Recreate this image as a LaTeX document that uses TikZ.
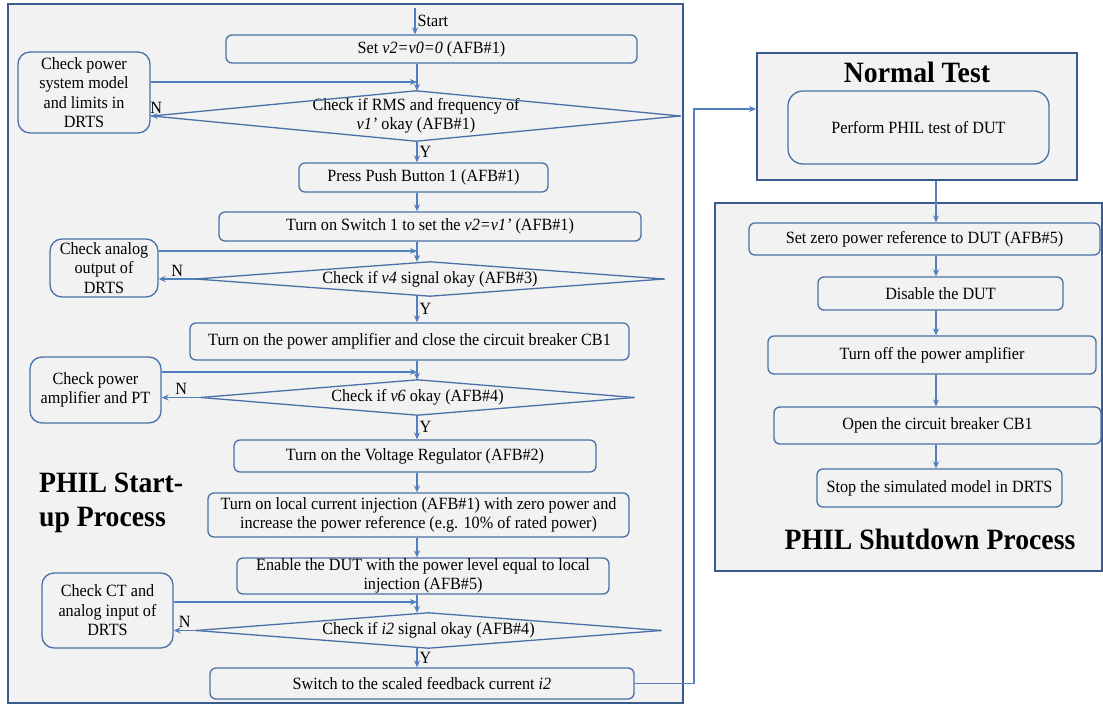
\documentclass[tikz,border=0pt]{standalone}
\usepackage{fontspec}
\setmainfont{Liberation Serif}[FakeStretch=0.94]
\usetikzlibrary{arrows.meta, calc}

\definecolor{panel_fill}{RGB}{242,242,242}
\definecolor{panel_line}{RGB}{58,92,140}
\definecolor{box_line}{RGB}{74,112,168}
\definecolor{arrow_line}{RGB}{80,128,190}

\tikzset{
  block_font/.style = {font=\fontsize{17.2}{19.5}\selectfont},
  title_font/.style = {font=\fontsize{29.5}{34}\selectfont\bfseries},
  panel/.style = {draw=panel_line, line width=1.8pt, fill=panel_fill, inner sep=0}
}
\tikzset{
  block/.style = {block_font, align=center, draw=box_line, line width=1.3pt, rounded corners=6, inner sep=0},
  check/.style = {block, rounded corners=12},
  diamond_edge/.style = {draw=box_line, line width=1.3pt, line cap=round},
  decision/.style = {block_font, align=center, inner sep=0,
    append after command={
      (\tikzlastnode.west) edge[diamond_edge] (\tikzlastnode.north)
      (\tikzlastnode.north) edge[diamond_edge] (\tikzlastnode.east)
      (\tikzlastnode.east) edge[diamond_edge] (\tikzlastnode.south)
      (\tikzlastnode.south) edge[diamond_edge] (\tikzlastnode.west)}},
  arrow/.style = {draw=arrow_line, line width=1.2pt, -{Stealth[length=7pt, width=6pt]}},
  answer/.style = {block_font, inner sep=2pt}
}

\begin{document}
\begin{tikzpicture}[x=1pt, y=-1pt]
    \useasboundingbox (0,0) rectangle (1103,707);

    % Panels
    \node[panel, minimum width=675, minimum height=699] at (345.5,353.5) (startup) {};
    \node[panel, minimum width=320, minimum height=127] at (917,116.5) (normal) {};
    \node[panel, minimum width=387, minimum height=368] at (908.5,387) (shutdown) {};

    \node[title_font, align=left, anchor=north west, inner sep=0] at (39,473) (startup_title) {
        PHIL Start-\\up Process};
    \node[title_font, anchor=base, inner sep=0] at (917,82) (normal_title) {Normal Test};
    \node[title_font, anchor=base, inner sep=0] at (930,549) (shutdown_title) {PHIL Shutdown Process};

    % Start-up steps
    \coordinate (spine) at (417,0);
    \coordinate (start) at (415,8);
    \node[block, minimum width=411, minimum height=28] at (431.5,49) (set_v) {
        Set \textit{v2=v0=0} (AFB\#1)};
    \node[check, minimum width=132, minimum height=81] at (84,92.5) (chk_model) {
        Check power\\system model\\and limits in\\DRTS};
    \node[decision, minimum width=528, minimum height=50] at (416,116) (dia_rms) {
        Check if RMS and frequency of\\\textit{v1'} okay (AFB\#1)};
    \node[block, minimum width=249, minimum height=29] at (423.5,177.5) (press) {
        Press Push Button 1 (AFB\#1)};
    \node[block, minimum width=422, minimum height=29] at (430,226.5) (switch_v) {
        Turn on Switch 1 to set the \textit{v2=v1'} (AFB\#1)};
    \node[check, minimum width=108, minimum height=58] at (104,268) (chk_analog) {
        Check analog\\output of\\DRTS};
    \node[decision, minimum width=468, minimum height=34] at (430,279) (dia_v4) {
        Check if \textit{v4} signal okay (AFB\#3)};
    \node[block, minimum width=439, minimum height=37] at (409.5,341.5) (amp_on) {
        Turn on the power amplifier and close the circuit breaker CB1};
    \node[check, minimum width=131, minimum height=66] at (95.5,390) (chk_amp) {
        Check power\\amplifier and PT};
    \node[decision, minimum width=433, minimum height=35] at (417.5,397.5) (dia_v6) {
        Check if \textit{v6} okay (AFB\#4)};
    \node[block, minimum width=362, minimum height=32] at (415,456) (volt_reg) {
        Turn on the Voltage Regulator (AFB\#2)};
    \node[block, minimum width=421, minimum height=44] at (418.5,515) (inject) {
        Turn on local current injection (AFB\#1) with zero power and\\
        increase the power reference (e.g. 10\% of rated power)};
    \node[block, minimum width=372, minimum height=36] at (423,576) (enable) {
        Enable the DUT with the power level equal to local\\injection (AFB\#5)};
    \node[check, minimum width=131, minimum height=75] at (107.5,610.5) (chk_ct) {
        Check CT and\\analog input of\\DRTS};
    \node[decision, minimum width=465, minimum height=35] at (428.5,630.5) (dia_i2) {
        Check if \textit{i2} signal okay (AFB\#4)};
    \node[block, minimum width=424, minimum height=31] at (422,683.5) (switch_i) {
        Switch to the scaled feedback current \textit{i2}};

    % Normal test and shutdown steps
    \coordinate (spine_r) at (936,0);
    \node[block, rounded corners=15, minimum width=261, minimum height=73] at (918.5,127.5) (perform) {
        Perform PHIL test of DUT};
    \node[block, minimum width=351, minimum height=32] at (924.5,239) (zero_ref) {
        Set zero power reference to DUT (AFB\#5)};
    \node[block, minimum width=245, minimum height=33] at (940.5,293.5) (disable) {
        Disable the DUT};
    \node[block, minimum width=328, minimum height=38] at (932,355) (amp_off) {
        Turn off the power amplifier};
    \node[block, minimum width=327, minimum height=37] at (937.5,425.5) (open_cb) {
        Open the circuit breaker CB1};
    \node[block, minimum width=245, minimum height=38] at (939.5,488) (stop_sim) {
        Stop the simulated model in DRTS};

    % Arrows
    \draw[arrow] (start) -- node[answer, right] {Start} (set_v.north -| start);

    \coordinate (join_rms) at (417,82);
    \draw[arrow] (set_v.south -| spine) -- (dia_rms.north -| spine);
    \draw[arrow] (chk_model.east |- join_rms) -- (join_rms);
    \draw[arrow] (dia_rms.west) -- node[answer, above, xshift=5pt] {N} (dia_rms.west -| chk_model.east);
    \draw[arrow] (dia_rms.south -| spine) -- node[answer, right] {Y} (press.north -| spine);
    \draw[arrow] (press.south -| spine) -- (switch_v.north -| spine);

    \coordinate (join_v4) at (417,251);
    \draw[arrow] (switch_v.south -| spine) -- (dia_v4.north -| spine);
    \draw[arrow] (chk_analog.east |- join_v4) -- (join_v4);
    \draw[arrow] (dia_v4.west) -- node[answer, above] {N} (dia_v4.west -| chk_analog.east);
    \draw[arrow] (dia_v4.south -| spine) -- node[answer, right] {Y} (amp_on.north -| spine);

    \coordinate (join_v6) at (417,372);
    \draw[arrow] (amp_on.south -| spine) -- (dia_v6.north -| spine);
    \draw[arrow] (chk_amp.east |- join_v6) -- (join_v6);
    \draw[arrow] (dia_v6.west) -- node[answer, above] {N} (dia_v6.west -| chk_amp.east);
    \draw[arrow] (dia_v6.south -| spine) -- node[answer, right] {Y} (volt_reg.north -| spine);
    \draw[arrow] (volt_reg.south -| spine) -- (inject.north -| spine);
    \draw[arrow] (inject.south -| spine) -- (enable.north -| spine);

    \coordinate (join_i2) at (417,602);
    \draw[arrow] (enable.south -| spine) -- (dia_i2.north -| spine);
    \draw[arrow] (chk_ct.east |- join_i2) -- (join_i2);
    \draw[arrow] (dia_i2.west) -- node[answer, above] {N} (dia_i2.west -| chk_ct.east);
    \draw[arrow] (dia_i2.south -| spine) -- node[answer, right] {Y} (switch_i.north -| spine);

    \coordinate (fb_turn) at (694,109);
    \draw[arrow] (switch_i.east) -| (fb_turn) -- (fb_turn -| normal.west);

    \draw[arrow] (normal.south -| spine_r) -- (zero_ref.north -| spine_r);
    \draw[arrow] (zero_ref.south -| spine_r) -- (disable.north -| spine_r);
    \draw[arrow] (disable.south -| spine_r) -- (amp_off.north -| spine_r);
    \draw[arrow] (amp_off.south -| spine_r) -- (open_cb.north -| spine_r);
    \draw[arrow] (open_cb.south -| spine_r) -- (stop_sim.north -| spine_r);
\end{tikzpicture}
\end{document}
